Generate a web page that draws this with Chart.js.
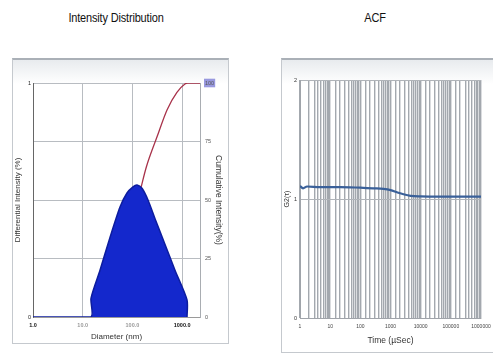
<!DOCTYPE html>
<html>
<head>
<meta charset="utf-8">
<script src="https://cdn.jsdelivr.net/npm/chart.js@4"></script>
<style>
  body { margin: 0; width: 493px; height: 354px; background: #fff; position: relative; overflow: hidden; font-family: "Liberation Sans", Arial, sans-serif; }
  .frame { position: absolute; border: 1px solid #c5c9ce; border-top: 2px solid #aab0b7; background: linear-gradient(#e8ebee, #fff 24px); }
  .heading { position: absolute; font-family: "Liberation Sans", Arial, sans-serif; font-size: 12.5px; color: #111; text-align: center; transform: scaleX(0.88); letter-spacing: -0.2px; }
  .pane { position: absolute; top: 0; height: 354px; }
</style>
</head>
<body>
<div class="frame" style="left:12px;top:58px;width:215px;height:283px"></div>
<div class="frame" style="left:281px;top:58px;width:212px;height:292px"></div>
<div class="heading" style="left:16px;top:11px;width:200px">Intensity Distribution</div>
<div class="heading" style="left:325px;top:11px;width:100px">ACF</div>
<div class="pane" style="left:0;width:246px"><canvas id="psd"></canvas></div>
<div class="pane" style="left:246px;width:247px"><canvas id="acf"></canvas></div>

<script>
// Size distribution (differential intensity, left axis)
const sizeNm    = [1, 14.6, 14.7, 22.3, 35.4, 56.3, 77.9, 102.8, 123.8, 156, 206, 285, 453, 719, 1255, 1256];
const intensity = [0, 0, 0.08, 0.2, 0.34, 0.47, 0.53, 0.556, 0.564, 0.55, 0.5, 0.42, 0.31, 0.2, 0.073, 0];

// Cumulative intensity (right axis, %)
const cumSizeNm = [14.7, 22.3, 35.4, 56.3, 77.9, 102.8, 123.8, 156, 190, 313, 497, 786, 1140, 1300, 2290];
const cumPct    = [0, 1, 4, 12, 24, 38, 48, 57, 64, 77, 88.5, 96, 99.6, 100, 100];

const diamTickValues = [1, 10, 100, 1000];
const diamTickLabels = ['1.0', '10.0', '100.0', '1000.0'];

// Correlation function
const lagUs = [1, 1.26, 1.71, 4.6, 21.5, 100, 316, 585, 1000, 1710, 2700, 4640, 10000, 46400, 215000, 1000000];
const g2    = [1.11, 1.09, 1.105, 1.10, 1.10, 1.095, 1.09, 1.085, 1.075, 1.055, 1.04, 1.027, 1.022, 1.02, 1.02, 1.02];

const lagTickValues = [1, 10, 100, 1000, 10000, 100000, 1000000];
const lagTickLabels = ['1', '10', '100', '1000', '10000', '100000', '1000000'];

const isDecade = v => Math.abs(Math.log10(v) - Math.round(Math.log10(v))) < 1e-9;
const labelFor = (vals, labels) => v => {
  const i = vals.findIndex(t => Math.abs(t - v) / t < 1e-9);
  return i >= 0 ? labels[i] : '';
};
const noPadX = s => { s.paddingLeft = 0; s.paddingRight = 0; };
const noPadY = s => { s.paddingTop = 0; s.paddingBottom = 0; };

new Chart(document.getElementById('psd'), {
  type: 'line',
  data: {
    datasets: [
      {
        label: 'Differential Intensity',
        data: sizeNm.map((x, i) => ({ x, y: intensity[i] })),
        yAxisID: 'y',
        borderColor: '#0c1c9e',
        borderWidth: 1.5,
        backgroundColor: '#1428cc',
        fill: 'origin',
        pointRadius: 0,
        tension: 0.25,
        order: 0
      },
      {
        label: 'Cumulative Intensity',
        data: cumSizeNm.map((x, i) => ({ x, y: cumPct[i] })),
        yAxisID: 'y1',
        borderColor: '#a8324a',
        borderWidth: 1.3,
        fill: false,
        pointRadius: 0,
        cubicInterpolationMode: 'monotone',
        order: 1
      }
    ]
  },
  options: {
    responsive: true,
    maintainAspectRatio: false,
    animation: false,
    layout: { padding: { top: 83, left: 0, right: 0, bottom: 0 } },
    plugins: { legend: { display: false }, tooltip: { enabled: false } },
    scales: {
      x: {
        type: 'logarithmic',
        min: 1,
        max: 2290,
        border: { color: '#9a9a9a' },
        grid: {
          color: c => (c.tick && isDecade(c.tick.value)) ? '#b8bcc1' : 'rgba(0,0,0,0)',
          drawTicks: false
        },
        ticks: {
          autoSkip: false,
          maxRotation: 0,
          padding: 5,
          font: { size: 5.5, weight: 'bold' },
          color: c => (c.tick && (c.tick.value === 1 || c.tick.value === 1000)) ? '#111' : '#999',
          callback: labelFor(diamTickValues, diamTickLabels)
        },
        title: { display: true, text: 'Diameter (nm)', font: { size: 8 }, color: '#333', padding: { top: 0, bottom: 12 } },
        afterFit: s => { s.height = 37; noPadX(s); }
      },
      y: {
        min: 0,
        max: 1,
        border: { color: '#666' },
        grid: { color: '#b8bcc1', drawTicks: false },
        ticks: {
          stepSize: 0.25,
          padding: 2,
          font: { size: 5.5 },
          color: '#222',
          callback: v => (v === 0 || v === 1) ? String(v) : ''
        },
        title: { display: true, text: 'Differential Intensity (%)', font: { size: 8 }, color: '#333', padding: { top: 13, bottom: 0 } },
        afterFit: s => { s.width = 33; noPadY(s); }
      },
      y1: {
        position: 'right',
        min: 0,
        max: 100,
        border: { color: '#a9adb2' },
        grid: { drawOnChartArea: false, drawTicks: false },
        ticks: {
          stepSize: 25,
          padding: 5,
          font: { size: 5.5 },
          color: '#555',
          showLabelBackdrop: true,
          backdropColor: c => (c.tick && c.tick.value === 100) ? 'rgba(110,110,210,0.7)' : 'rgba(0,0,0,0)',
          backdropPadding: 1
        },
        title: { display: true, text: 'Cumulative Intensity(%)', font: { size: 8.5 }, color: '#333', padding: { top: 23, bottom: 0 } },
        afterFit: s => { s.width = 46; noPadY(s); }
      }
    }
  }
});

new Chart(document.getElementById('acf'), {
  type: 'line',
  data: {
    datasets: [{
      label: 'G2',
      data: lagUs.map((x, i) => ({ x, y: g2[i] })),
      borderColor: '#3a6099',
      borderWidth: 2.2,
      fill: false,
      pointRadius: 0,
      cubicInterpolationMode: 'monotone'
    }]
  },
  options: {
    responsive: true,
    maintainAspectRatio: false,
    animation: false,
    layout: { padding: { top: 80, left: 0, right: 12, bottom: 0 } },
    plugins: { legend: { display: false }, tooltip: { enabled: false } },
    scales: {
      x: {
        type: 'logarithmic',
        min: 1,
        max: 1000000,
        border: { color: '#a0a4aa' },
        grid: { color: '#a3a8ae', lineWidth: 1.4, drawTicks: false },
        ticks: {
          autoSkip: false,
          maxRotation: 0,
          padding: 6,
          font: { size: 5 },
          color: '#444',
          callback: labelFor(lagTickValues, lagTickLabels)
        },
        title: { display: true, text: 'Time (µSec)', font: { size: 8.5 }, color: '#333', padding: { top: 0, bottom: 8 } },
        afterFit: s => { s.height = 36; noPadX(s); }
      },
      y: {
        min: 0,
        max: 2,
        border: { color: '#a0a4aa' },
        grid: { color: '#b0b4b9', drawTicks: false },
        ticks: { stepSize: 1, padding: 3, font: { size: 5.5 }, color: '#333' },
        title: { display: true, text: 'G2(τ)', font: { size: 7 }, color: '#333', padding: { top: 37, bottom: 0 } },
        afterFit: s => { s.width = 54; noPadY(s); }
      }
    }
  }
});
</script>
</body>
</html>
